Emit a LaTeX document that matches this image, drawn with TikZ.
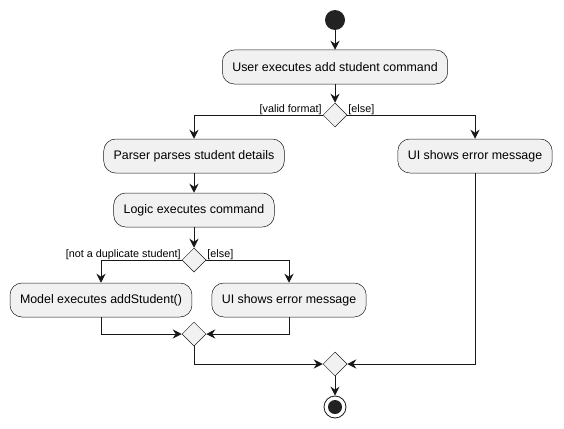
\documentclass[tikz,border=0pt]{standalone}
\usepackage{fontspec}
\setmainfont{Liberation Sans}
\usetikzlibrary{shapes.geometric,arrows.meta}
\definecolor{boxfill}{HTML}{F1F1F1}
\definecolor{ink}{HTML}{181818}
\definecolor{dot}{HTML}{222222}
\begin{document}
\begin{tikzpicture}[x=1pt,y=-1pt,
  act/.style={draw=ink,line width=0.5pt,fill=boxfill,rounded corners=12pt,minimum height=34pt,inner xsep=10pt,font=\fontsize{12.4}{14}\selectfont},
  dec/.style={draw=ink,line width=0.5pt,fill=boxfill,shape=diamond,minimum width=24pt,minimum height=24pt,inner sep=0pt},
  flow/.style={draw=ink,line width=1pt,-{Stealth[length=9pt,width=9pt,inset=3pt]}},
  guard/.style={font=\fontsize{10.8}{12}\selectfont,inner sep=1pt}]
\useasboundingbox (0,0) rectangle (564,428);
\node[circle,fill=dot,minimum size=20pt,inner sep=0pt] (start) at (335,20) {};
\node[act] (b1) at (335,67) {User executes add student command};
\node[dec] (d1) at (335,115) {};
\node[act] (b2) at (194,156) {Parser parses student details};
\node[act] (b3) at (475,156) {UI shows error message};
\node[act] (b4) at (194,210) {Logic executes command};
\node[dec] (d2) at (194,260) {};
\node[act] (b5) at (101,300) {Model executes addStudent()};
\node[act] (b6) at (289,300) {UI shows error message};
\node[dec] (d3) at (194,334) {};
\node[dec] (d4) at (335,364) {};
\node[circle,draw=ink,line width=0.8pt,fill=white,minimum size=22pt,inner sep=0pt] (end) at (335,407) {};
\node[circle,fill=dot,minimum size=14pt,inner sep=0pt] (endin) at (335,407) {};
\node[guard,anchor=south east] (l1) at ([yshift=-1pt]d1.west) {[valid format]};
\node[guard,anchor=south west] (l2) at ([yshift=-1pt]d1.east) {[else]};
\node[guard,anchor=south east] (l3) at ([yshift=-1pt]d2.west) {[not a duplicate student]};
\node[guard,anchor=south west] (l4) at ([yshift=-1pt]d2.east) {[else]};
\draw[flow] (start) -- (b1);
\draw[flow] (b1) -- (d1);
\draw[flow] (d1.west) -| (b2.north);
\draw[flow] (d1.east) -| (b3.north);
\draw[flow] (b2) -- (b4);
\draw[flow] (b4) -- (d2);
\draw[flow] (d2.west) -| (b5.north);
\draw[flow] (d2.east) -| (b6.north);
\draw[flow] (b5.south) |- (d3.west);
\draw[flow] (b6.south) |- (d3.east);
\draw[flow] (d3.south) |- (d4.west);
\draw[flow] (b3.south) |- (d4.east);
\draw[flow] (d4) -- (end);
\end{tikzpicture}
\end{document}
